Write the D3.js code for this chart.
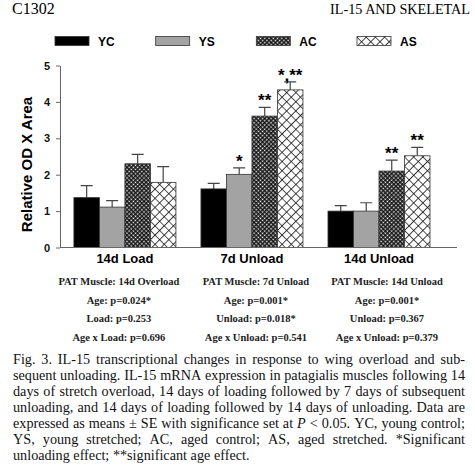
<!DOCTYPE html>
<html>
<head>
<meta charset="utf-8">
<script src="https://cdn.jsdelivr.net/npm/d3@7"></script>
<style>
  body { margin: 0; background: #fff; }
</style>
</head>
<body>
<div id="chart"></div>
<script>
// data
const groups = ["14d Load", "7d Unload", "14d Unload"]
const series = ["YC", "YS", "AC", "AS"]
const means = [
    [1.37, 1.11, 2.30, 1.79],
    [1.61, 2.01, 3.61, 4.33],
    [1.00, 1.00, 2.10, 2.52]
]
const errors = [
    [0.33, 0.18, 0.26, 0.43],
    [0.15, 0.18, 0.24, 0.22],
    [0.15, 0.23, 0.30, 0.23]
]
const marks = [
    ["", "", "", ""],
    ["", "*", "**", "*,**"],
    ["", "", "**", "**"]
]
const yTicks = [0, 1, 2, 3, 4, 5]
const stats = [
    ["PAT Muscle: 14d Overload", "Age: p=0.024*", "Load: p=0.253", "Age x Load: p=0.696"],
    ["PAT Muscle: 7d Unload", "Age: p=0.001*", "Unload: p=0.018*", "Age x Unload: p=0.541"],
    ["PAT Muscle: 14d Unload", "Age: p=0.001*", "Unload: p=0.367", "Age x Unload: p=0.379"]
]
const caption = [
    "Fig. 3. IL-15 transcriptional changes in response to wing overload and sub-",
    "sequent unloading. IL-15 mRNA expression in patagialis muscles following 14",
    "days of stretch overload, 14 days of loading followed by 7 days of subsequent",
    "unloading, and 14 days of loading followed by 14 days of unloading. Data are",
    "expressed as means \u00b1 SE with significance set at _P < 0.05. YC, young control;",
    "YS, young stretched; AC, aged control; AS, aged stretched. *Significant",
    "unloading effect; **significant age effect."
]

const width = 475
const height = 474
const sans = "'Liberation Sans', Arial, sans-serif"
const serif = "'Liberation Serif', 'Times New Roman', serif"

const svg = d3.select("#chart").append("svg")
    .attr("width", width)
    .attr("height", height)

// patterns
const defs = svg.append("defs")
const pAC = defs.append("pattern")
    .attr("id", "pat-ac")
    .attr("patternUnits", "userSpaceOnUse")
    .attr("width", 3).attr("height", 3)
    .attr("patternTransform", "rotate(45)")
pAC.append("rect").attr("width", 3).attr("height", 3).attr("fill", "#111")
pAC.append("rect").attr("x", 0.6).attr("y", 0.6).attr("width", 1.5).attr("height", 1.5).attr("fill", "#fff")

const pAS = defs.append("pattern")
    .attr("id", "pat-as")
    .attr("patternUnits", "userSpaceOnUse")
    .attr("width", 6.5).attr("height", 6.5)
    .attr("patternTransform", "rotate(45)")
pAS.append("rect").attr("width", 6.5).attr("height", 6.5).attr("fill", "#fff")
pAS.append("path").attr("d", "M0,0H6.5M0,0V6.5").attr("stroke", "#111").attr("stroke-width", 1.6)

const fill = d3.scaleOrdinal(series, ["#000", "#a3a3a3", "url(#pat-ac)", "url(#pat-as)"])

// header
svg.append("text")
    .attr("x", 12).attr("y", 14)
    .attr("font-family", serif).attr("font-size", 16)
    .text("C1302")
svg.append("text")
    .attr("x", 470).attr("y", 14)
    .attr("text-anchor", "end")
    .attr("font-family", serif).attr("font-size", 14.2)
    .text("IL-15 AND SKELETAL")

// scales
const x = d3.scaleBand()
    .domain(groups)
    .range([60, 457])
    .paddingInner(0.197)
    .paddingOuter(0.161)
    .align(0.34)

const xs = d3.scaleBand()
    .domain(series)
    .range([0, x.bandwidth()])

const y = d3.scaleLinear()
    .domain([0, 5])
    .range([247.5, 65.5])

// legend
const legendX = d3.scalePoint().domain(series).range([55, 357])
const leg = svg.append("g").selectAll("g")
    .data(series)
    .join("g")
    .attr("transform", d => `translate(${legendX(d)},36.5)`)
leg.append("rect")
    .attr("width", 34).attr("height", 9)
    .attr("fill", d => fill(d))
    .attr("stroke", "#333").attr("stroke-width", 0.8)
leg.append("text")
    .attr("x", 43).attr("y", 9)
    .attr("font-family", sans).attr("font-weight", "bold").attr("font-size", 12)
    .text(d => d)

// axes
svg.append("g")
    .attr("transform", "translate(60,0)")
    .call(d3.axisLeft(y).tickValues(yTicks).tickFormat(d3.format("d"))
        .tickSize(4).tickPadding(6).tickSizeOuter(0))
    .call(g => g.select(".domain").attr("stroke", "#666"))
    .call(g => g.selectAll(".tick line").attr("stroke", "#666"))
    .call(g => g.selectAll("text")
        .attr("font-family", sans).attr("font-weight", "bold").attr("font-size", 11)
        .attr("fill", "#111"))

svg.append("text")
    .attr("transform", `translate(32,${(y(0) + y(5)) / 2 + 8}) rotate(-90)`)
    .attr("text-anchor", "middle")
    .attr("font-family", sans).attr("font-weight", "bold").attr("font-size", 15)
    .text("Relative OD X Area")

// bars
const rows = groups.flatMap((g, gi) => series.map((s, si) => ({
    g, s, v: means[gi][si], e: errors[gi][si], m: marks[gi][si]
})))

const barG = svg.append("g")
const cell = barG.selectAll("g")
    .data(rows)
    .join("g")
    .attr("transform", d => `translate(${x(d.g) + xs(d.s)},0)`)

cell.append("path")
    .attr("d", d => `M${xs.bandwidth() / 2},${y(d.v)}V${y(d.v + d.e)}M${xs.bandwidth() / 2 - 6},${y(d.v + d.e)}h12`)
    .attr("stroke", "#444").attr("stroke-width", 1.2).attr("fill", "none")

cell.append("rect")
    .attr("y", d => y(d.v))
    .attr("width", xs.bandwidth())
    .attr("height", d => y(0) - y(d.v))
    .attr("fill", d => fill(d.s))
    .attr("stroke", "#333").attr("stroke-width", 0.8)

cell.append("text")
    .attr("x", xs.bandwidth() / 2)
    .attr("y", d => y(d.v + d.e) - 1)
    .attr("text-anchor", "middle")
    .attr("font-family", sans).attr("font-weight", "bold").attr("font-size", 17)
    .text(d => d.m)

// baseline
svg.append("line")
    .attr("x1", 60).attr("x2", 457)
    .attr("y1", y(0)).attr("y2", y(0))
    .attr("stroke", "#666").attr("stroke-width", 1.2)

// group labels
svg.append("g").selectAll("text")
    .data(groups)
    .join("text")
    .attr("x", d => x(d) + x.bandwidth() / 2)
    .attr("y", 263)
    .attr("text-anchor", "middle")
    .attr("font-family", sans).attr("font-weight", "bold").attr("font-size", 13)
    .text(d => d)

// stats under each group
const statShift = [-6, 4, 8]
const st = svg.append("g").selectAll("g")
    .data(stats)
    .join("g")
    .attr("transform", (d, i) => `translate(${x(groups[i]) + x.bandwidth() / 2 + statShift[i]},285)`)
st.selectAll("text")
    .data(d => d)
    .join("text")
    .attr("y", (d, i) => i * 18.7)
    .attr("text-anchor", "middle")
    .attr("font-family", serif).attr("font-weight", "bold").attr("font-size", 10.5)
    .attr("fill", "#222")
    .text(d => d)

// caption, justified line by line
const capLeft = 13, capRight = 465
caption.forEach((line, li) => {
    const t = svg.append("text")
        .attr("y", 364 + li * 16)
        .attr("font-family", serif).attr("font-size", 14.2)
        .attr("fill", "#111")
    const words = line.split(" ")
    const spans = words.map(w => t.append("tspan")
        .attr("font-style", w.startsWith("_") ? "italic" : null)
        .text(w.replace(/^_/, "")))
    const widths = spans.map(s => s.node().getComputedTextLength())
    const total = d3.sum(widths)
    const last = li === caption.length - 1
    const gap = last ? 3.6 : (capRight - capLeft - total) / (words.length - 1)
    let cx = capLeft
    spans.forEach((s, i) => {
        s.attr("x", cx)
        cx += widths[i] + gap
    })
})
</script>
</body>
</html>
